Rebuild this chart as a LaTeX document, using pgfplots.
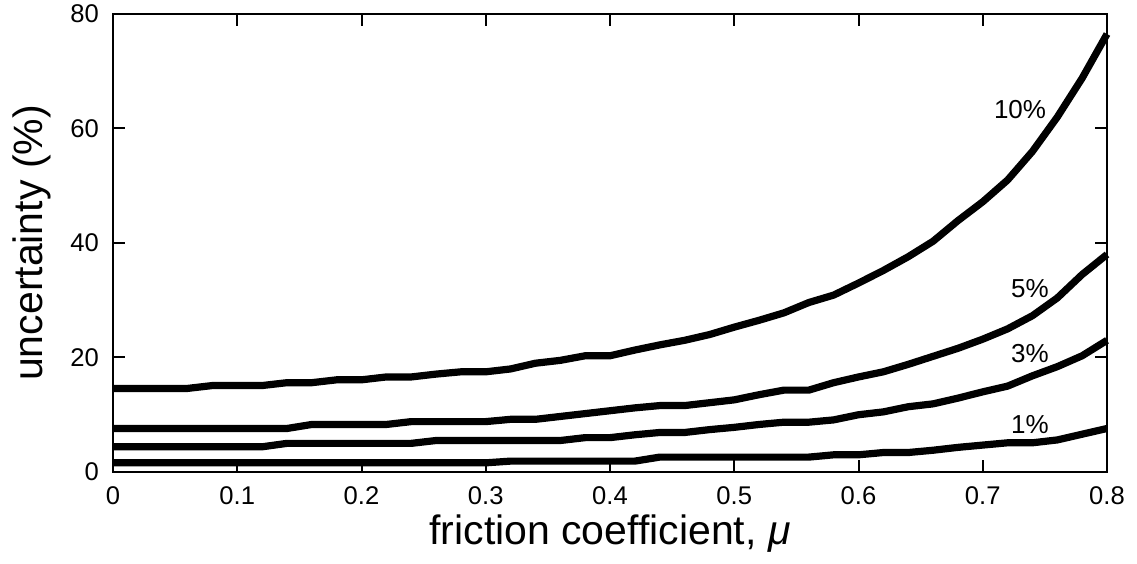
\documentclass[border=0pt]{standalone}
\usepackage{fontspec}
\setmainfont{Liberation Sans}
\usepackage{pgfplots}
\pgfplotsset{compat=1.18}

\pgfplotstableread{
mu    p10   p5    p3    p1
0.00  14.6  7.6   4.4   1.6
0.02  14.6  7.6   4.4   1.6
0.04  14.6  7.6   4.4   1.6
0.06  14.6  7.6   4.4   1.6
0.08  15.1  7.6   4.4   1.6
0.10  15.1  7.6   4.4   1.6
0.12  15.1  7.6   4.4   1.6
0.14  15.6  7.6   5.0   1.6
0.16  15.6  8.3   5.0   1.6
0.18  16.1  8.3   5.0   1.6
0.20  16.1  8.3   5.0   1.6
0.22  16.6  8.3   5.0   1.6
0.24  16.6  8.8   5.0   1.6
0.26  17.1  8.8   5.5   1.6
0.28  17.5  8.8   5.5   1.6
0.30  17.5  8.8   5.5   1.6
0.32  18.0  9.2   5.5   1.9
0.34  19.0  9.2   5.5   1.9
0.36  19.5  9.7   5.5   1.9
0.38  20.3  10.2  6.0   1.9
0.40  20.3  10.7  6.0   1.9
0.42  21.3  11.2  6.5   1.9
0.44  22.2  11.6  6.9   2.6
0.46  23.0  11.6  6.9   2.6
0.48  24.0  12.1  7.4   2.6
0.50  25.3  12.6  7.8   2.6
0.52  26.5  13.5  8.3   2.6
0.54  27.8  14.3  8.7   2.6
0.56  29.6  14.3  8.7   2.6
0.58  30.9  15.6  9.1   3.0
0.60  33.0  16.6  10.0  3.0
0.62  35.2  17.5  10.5  3.4
0.64  37.6  18.8  11.4  3.4
0.66  40.3  20.2  11.9  3.8
0.68  43.9  21.6  12.9  4.3
0.70  47.2  23.2  14.0  4.7
0.72  51.0  25.0  15.0  5.1
0.74  56.0  27.3  16.8  5.1
0.76  62.0  30.4  18.4  5.6
0.78  68.8  34.5  20.3  6.6
0.80  76.5  38.0  23.0  7.6
}\datatable

\begin{document}
\begin{tikzpicture}
\begin{axis}[
    scale only axis,
    width=497pt,
    height=229pt,
    xmin=0, xmax=0.8,
    ymin=0, ymax=80,
    xtick={0,0.1,...,0.8},
    ytick={0,20,40,60,80},
    /pgf/number format/assume math mode=true,
    /pgf/number format/fixed,
    tick align=inside,
    major tick length=6pt,
    tick style={line width=1pt, black},
    axis line style={line width=1.4pt},
    ticklabel style={font=\fontsize{12.8pt}{15pt}\selectfont},
    xticklabel style={yshift=-4pt},
    yticklabel style={xshift=-3.5pt},
    xlabel={friction coefficient, \textit{μ}},
    ylabel={uncertainty (\%)},
    label style={font=\fontsize{20.5pt}{24pt}\selectfont},
    xlabel style={yshift=2pt},
    ylabel style={yshift=3pt},
    clip=false,
]
\addplot[line width=3.6pt, black] table[x=mu, y=p10] {\datatable};
\addplot[line width=3.6pt, black] table[x=mu, y=p5] {\datatable};
\addplot[line width=3.6pt, black] table[x=mu, y=p3] {\datatable};
\addplot[line width=3.6pt, black] table[x=mu, y=p1] {\datatable};
\node[font=\fontsize{13pt}{15pt}\selectfont] at (axis cs:0.730,63.3) {10\%};
\node[font=\fontsize{13pt}{15pt}\selectfont] at (axis cs:0.738,32.0) {5\%};
\node[font=\fontsize{13pt}{15pt}\selectfont] at (axis cs:0.738,20.7) {3\%};
\node[font=\fontsize{13pt}{15pt}\selectfont] at (axis cs:0.738,8.2) {1\%};
\end{axis}
\path (current axis.south west) ++(-56.5pt,-46pt) coordinate (bbA);
\path (current axis.north east) ++(15pt,7pt) coordinate (bbB);
\pgfresetboundingbox
\path[use as bounding box] (bbA) rectangle (bbB);
\end{tikzpicture}
\end{document}
